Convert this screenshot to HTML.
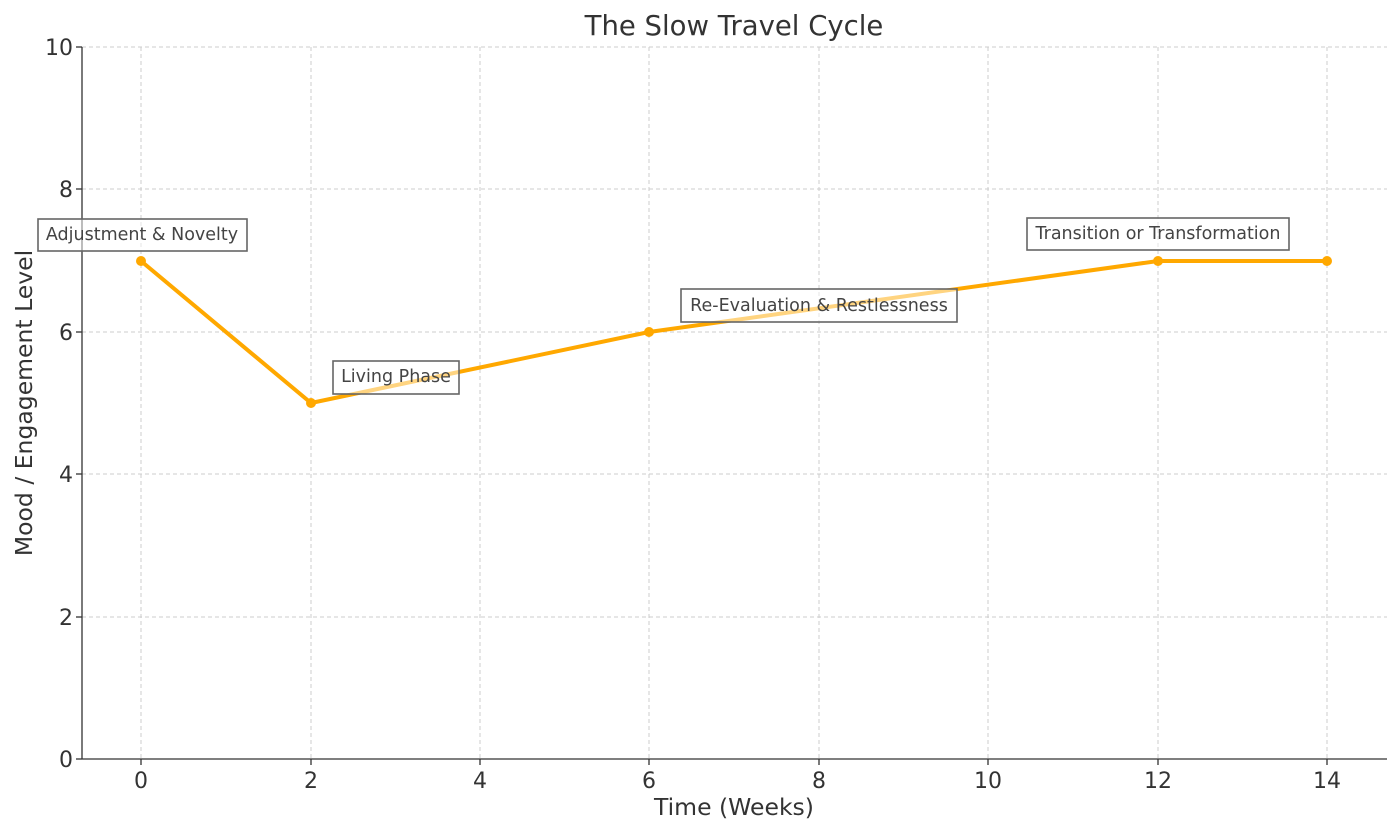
<!DOCTYPE html>
<html><head><meta charset="utf-8"><style>html,body{margin:0;padding:0;background:#fff}</style></head><body>
<svg width="1400" height="835" xmlns="http://www.w3.org/2000/svg" font-family="DejaVu Sans, Liberation Sans, sans-serif">
<rect width="1400" height="835" fill="#fff"/>
<g stroke="#cccccc" stroke-width="1" stroke-dasharray="4,3">
<line x1="141" y1="47" x2="141" y2="759"/><line x1="311" y1="47" x2="311" y2="759"/><line x1="480" y1="47" x2="480" y2="759"/><line x1="649" y1="47" x2="649" y2="759"/><line x1="819" y1="47" x2="819" y2="759"/><line x1="988" y1="47" x2="988" y2="759"/><line x1="1158" y1="47" x2="1158" y2="759"/><line x1="1327" y1="47" x2="1327" y2="759"/>
<line x1="82" y1="47" x2="1387" y2="47"/><line x1="82" y1="189" x2="1387" y2="189"/><line x1="82" y1="332" x2="1387" y2="332"/><line x1="82" y1="474" x2="1387" y2="474"/><line x1="82" y1="617" x2="1387" y2="617"/>
</g>
<polyline points="141,261 311,403 649,332 1158,261 1327,261" fill="none" stroke="#FFA800" stroke-width="4" stroke-linejoin="round"/>
<g fill="#FFA800"><circle cx="141" cy="261" r="5"/><circle cx="311" cy="403" r="5"/><circle cx="649" cy="332" r="5"/><circle cx="1158" cy="261" r="5"/><circle cx="1327" cy="261" r="5"/></g>
<g stroke="#333" stroke-width="1.3"><line x1="82" y1="47" x2="82" y2="759"/><line x1="82" y1="759" x2="1387" y2="759"/>
<line x1="141" y1="759" x2="141" y2="765"/><line x1="311" y1="759" x2="311" y2="765"/><line x1="480" y1="759" x2="480" y2="765"/><line x1="649" y1="759" x2="649" y2="765"/><line x1="819" y1="759" x2="819" y2="765"/><line x1="988" y1="759" x2="988" y2="765"/><line x1="1158" y1="759" x2="1158" y2="765"/><line x1="1327" y1="759" x2="1327" y2="765"/>
<line x1="76" y1="47" x2="82" y2="47"/><line x1="76" y1="189" x2="82" y2="189"/><line x1="76" y1="332" x2="82" y2="332"/><line x1="76" y1="474" x2="82" y2="474"/><line x1="76" y1="617" x2="82" y2="617"/><line x1="76" y1="759" x2="82" y2="759"/></g>
<g font-size="22" fill="#333" text-anchor="middle">
<text x="141" y="788">0</text><text x="311" y="788">2</text><text x="480" y="788">4</text><text x="649" y="788">6</text><text x="819" y="788">8</text><text x="988" y="788">10</text><text x="1158" y="788">12</text><text x="1327" y="788">14</text>
</g>
<g font-size="22" fill="#333" text-anchor="end">
<text x="73" y="55">10</text><text x="73" y="197">8</text><text x="73" y="340">6</text><text x="73" y="482">4</text><text x="73" y="625">2</text><text x="73" y="767">0</text>
</g>
<text x="734" y="815" font-size="23.5" fill="#333" text-anchor="middle">Time (Weeks)</text>
<text transform="translate(32,403) rotate(-90)" font-size="23.5" fill="#333" text-anchor="middle">Mood / Engagement Level</text>
<text x="734" y="35" font-size="27.5" fill="#333" text-anchor="middle">The Slow Travel Cycle</text>
<g fill="#fff" fill-opacity="0.5" stroke="#666" stroke-width="1.6">
<rect x="38" y="219" width="209" height="32"/><rect x="333" y="361" width="126" height="33"/><rect x="681" y="289" width="276" height="33"/><rect x="1027" y="218" width="262" height="32"/>
</g>
<g font-size="17.5" fill="#444" text-anchor="middle">
<text x="142" y="240">Adjustment &amp; Novelty</text><text x="396" y="382">Living Phase</text><text x="819" y="311">Re-Evaluation &amp; Restlessness</text><text x="1158" y="239">Transition or Transformation</text>
</g>
</svg>
</body></html>
